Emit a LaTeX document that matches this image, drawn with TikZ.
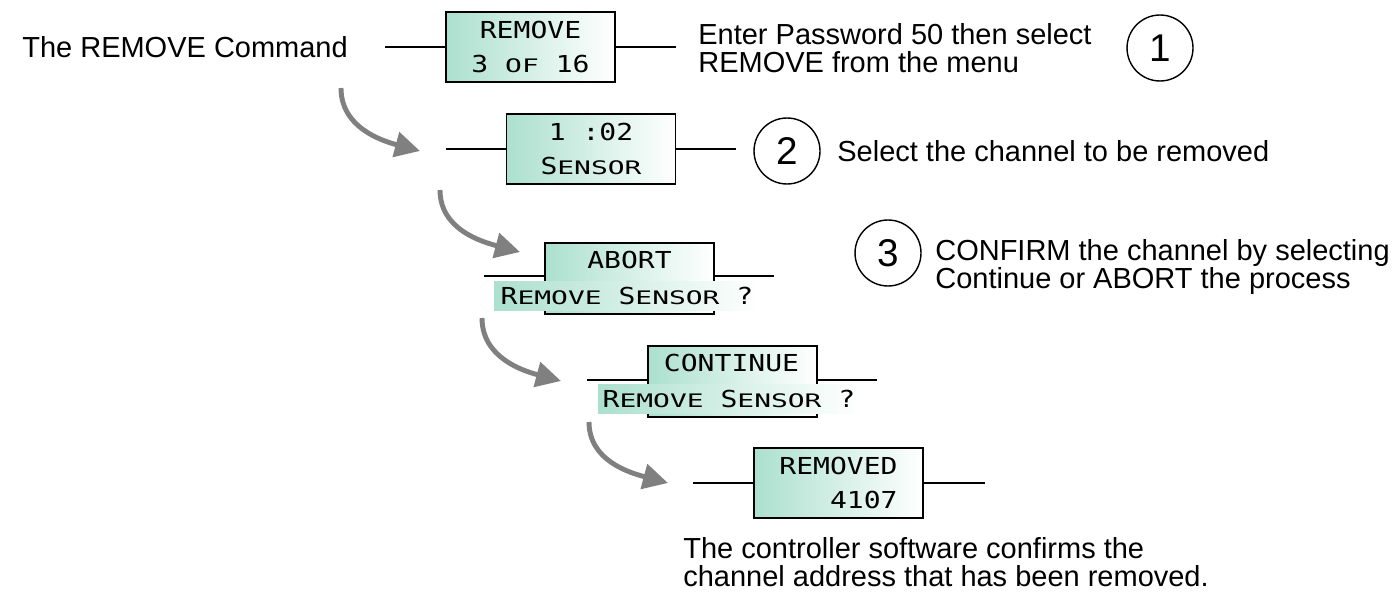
\documentclass[tikz,border=0pt]{standalone}
\usepackage{fontspec}
\setmainfont{Liberation Sans}
\newfontfamily\lcdfont{DejaVu Sans Mono}[FakeStretch=1.2]
\newfontfamily\lcdsmall{DejaVu Sans Mono}[FakeStretch=1.5]
\usepackage{xcolor}
\usepackage{tikz}
\usetikzlibrary{arrows.meta, calc}
\definecolor{lcdteal}{RGB}{172,224,206}
\definecolor{arrowgray}{RGB}{128,128,128}
\newcommand{\lsc}[1]{{\lcdsmall\fontsize{10.6pt}{10.6pt}\selectfont #1}}

\begin{document}
\begin{tikzpicture}[x=0.02cm, y=-0.02cm, font=\fontsize{16.5pt}{15.9pt}\selectfont,
    lcdbox/.style={draw, line width=1pt, left color=lcdteal, right color=white,
      minimum width=3.38cm, minimum height=1.4cm, inner sep=0pt, align=center,
      font=\lcdfont\fontsize{13.3pt}{19.3pt}\selectfont},
    lcdstrip/.style={left color=lcdteal, right color=white, minimum height=0.58cm,
      inner sep=0pt, font=\lcdfont\fontsize{13.3pt}{13.3pt}\selectfont},
    lcdtext/.style={inner sep=0pt, font=\lcdfont\fontsize{13.3pt}{13.3pt}\selectfont},
    numcircle/.style={draw, circle, line width=0.8pt, minimum size=1.32cm, inner sep=0pt,
      font=\fontsize{22pt}{22pt}\selectfont},
    note/.style={anchor=west, align=left, inner sep=0pt},
    flowarrow/.style={draw=arrowgray, line width=2.8pt,
      -{Triangle[length=0.5cm, width=0.5cm, fill=arrowgray]}},
    wire/.style={line width=0.8pt}]
  \useasboundingbox (0,0) rectangle (1398,591);

  \node[note] (title) at (22,47) {The REMOVE Command};

  \node[lcdbox] (menu) at (530.5,47) {REMOVE\\3 \lsc{OF} 16};
  \coordinate (menul) at (385,47);
  \coordinate (menur) at (676,47);
  \draw[wire] (menul) -- (menu.west);
  \draw[wire] (menu.east) -- (menur);
  \node[note] (menutxt) at (698,48) {Enter Password 50 then select\\REMOVE from the menu};
  \node[numcircle] (n1) at (1160,48) {1};

  \node[lcdbox] (chan) at (591,149) {1 :02\\S\lsc{ENSOR}};
  \coordinate (chanl) at (446,149);
  \coordinate (chanr) at (736,149);
  \draw[wire] (chanl) -- (chan.west);
  \draw[wire] (chan.east) -- (chanr);
  \node[numcircle] (n2) at (787,151) {2};
  \node[note] (chantxt) at (837,151) {Select the channel to be removed};

  \node[lcdbox, minimum height=1.42cm] (abort) at (629.5,278.5) {};
  \node[lcdtext] (aborttxt) at (629.5,260) {ABORT};
  \coordinate (abortl) at (484,276);
  \coordinate (abortr) at (774,276);
  \draw[wire] (abortl) -- (abortl -| abort.west);
  \draw[wire] (abort.east |- abortr) -- (abortr);
  \node[lcdstrip, minimum width=5.32cm] (abortq) at (627,296) {R\lsc{EMOVE} S\lsc{ENSOR} ?};
  \node[numcircle] (n3) at (888,253) {3};
  \node[note] (conftxt) at (935,267) {CONFIRM the channel by selecting\\Continue or ABORT the process};

  \node[lcdbox, minimum height=1.42cm] (cont) at (732.5,381.5) {};
  \node[lcdtext] (conttxt) at (731.5,363) {CONTINUE};
  \coordinate (contl) at (587,380);
  \coordinate (contr) at (877,380);
  \draw[wire] (contl) -- (contl -| cont.west);
  \draw[wire] (cont.east |- contr) -- (contr);
  \node[lcdstrip, minimum width=5.24cm] (contq) at (729,399) {R\lsc{EMOVE} S\lsc{ENSOR} ?};

  \node[lcdbox, align=right] (done) at (838.5,483) {REMOVED\\4107};
  \coordinate (donel) at (693,483);
  \coordinate (doner) at (985,483);
  \draw[wire] (donel) -- (done.west);
  \draw[wire] (done.east) -- (doner);
  \node[note] (donetxt) at (683,562) {The controller software confirms the\\channel address that has been removed.};

  \coordinate (a1s) at (341,88);  \coordinate (a1e) at (420,151);
  \coordinate (a2s) at (440,190); \coordinate (a2e) at (520,252);
  \coordinate (a3s) at (482,318); \coordinate (a3e) at (561,381);
  \coordinate (a4s) at (589,422); \coordinate (a4e) at (668,483);
  \draw[flowarrow] (a1s) to[out=-90, in=165] (a1e);
  \draw[flowarrow] (a2s) to[out=-90, in=165] (a2e);
  \draw[flowarrow] (a3s) to[out=-90, in=165] (a3e);
  \draw[flowarrow] (a4s) to[out=-90, in=165] (a4e);
\end{tikzpicture}
\end{document}
